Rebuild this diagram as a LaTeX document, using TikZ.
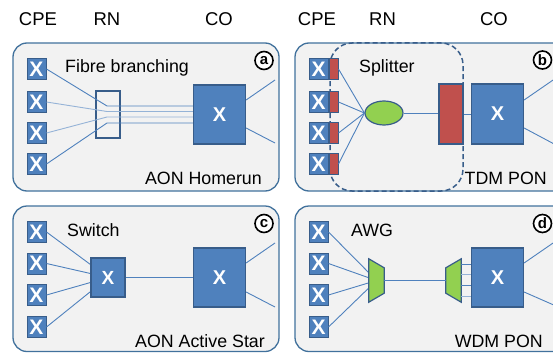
\documentclass[tikz,border=0pt]{standalone}
\usepackage{fontspec}
\setmainfont{Liberation Sans}
\usetikzlibrary{calc,shapes.geometric}
\definecolor{pfill}{HTML}{F2F2F2}
\definecolor{pborder}{HTML}{41719C}
\definecolor{bfill}{HTML}{4F81BD}
\definecolor{bborder}{HTML}{385D8A}
\definecolor{lnlight}{HTML}{95B3D7}
\definecolor{gfill}{HTML}{92D050}
\definecolor{rfill}{HTML}{C0504D}
\tikzset{
  panel/.style={rounded corners=14pt, fill=pfill, draw=pborder, line width=1.3pt},
  cpe/.style={rectangle, fill=bfill, draw=bborder, line width=1pt, minimum width=19pt, minimum height=21pt, inner sep=0pt, text=white, font=\fontsize{21}{21}\selectfont\bfseries},
  red/.style={rectangle, fill=rfill, draw=bborder, line width=1pt, minimum width=9pt, minimum height=21pt, inner sep=0pt},
  cobox/.style={rectangle, fill=bfill, draw=bborder, line width=1.2pt, minimum width=52pt, minimum height=59pt, inner sep=0pt, text=white, font=\fontsize{20}{20}\selectfont\bfseries},
  ln/.style={draw=bfill, line width=0.9pt},
  lnl/.style={draw=lnlight, line width=0.9pt},
  lbl/.style={font=\fontsize{17.8}{18}\selectfont, inner sep=0pt},
  hdr/.style={font=\fontsize{18.5}{19}\selectfont, inner sep=0pt},
  tag/.style={circle, draw=black, fill=white, line width=1.6pt, minimum size=18pt, inner sep=0pt, font=\fontsize{15}{15}\selectfont\bfseries},
  awg/.style={fill=gfill, draw=bborder, line width=1.2pt, line join=miter},
  dashbox/.style={draw=bborder, line width=1.5pt, dash pattern=on 5pt off 3pt, rounded corners=22pt},
}
\begin{document}
\begin{tikzpicture}[x=1pt,y=-1pt]
\useasboundingbox (0,0) rectangle (553,353);
\clip (0,0) rectangle (553,353);
% headers
\node[hdr] (h1) at (38,19) {CPE};
\node[hdr] (h2) at (107,19) {RN};
\node[hdr] (h3) at (219,19) {CO};
\node[hdr] (h4) at (317,19) {CPE};
\node[hdr] (h5) at (382.5,19) {RN};
\node[hdr] (h6) at (494,19) {CO};
% panels
\draw[panel] (13,43) rectangle (279,191);
\draw[panel] (295,43) rectangle (580,191);
\draw[panel] (13,206) rectangle (279,351.5);
\draw[panel] (295,206) rectangle (580,351.5);

% ---------- panel a
\foreach \i/\y in {1/69,2/102,3/133,4/164}{
  \node[cpe] (a\i) at (36.5,\y) {X};
}
\node[cobox] (aco) at (219.5,114.5) {X};
\node[rectangle, draw=bborder, line width=1.2pt, minimum width=24pt, minimum height=47pt, inner sep=0pt] (arn) at (108,114.5) {};
\coordinate (aj1) at (107,106);
\coordinate (aj2) at (107,111.5);
\coordinate (aj3) at (107,117);
\coordinate (aj4) at (107,123);
\draw[ln] (a1.east) -- (aj1) -- (aj1 -| aco.west);
\draw[lnl] (a2.east) -- (aj2) -- (aj2 -| aco.west);
\draw[lnl] (a3.east) -- (aj3) -- (aj3 -| aco.west);
\draw[ln] (a4.east) -- (aj4) -- (aj4 -| aco.west);
\coordinate (ao1) at (275,80);
\coordinate (ao2) at (275,143);
\draw[ln] ([yshift=14.5pt]aco.east) -- (ao1);
\draw[ln] ([yshift=-13.5pt]aco.east) -- (ao2);
\node[lbl, anchor=base west] (ta1) at (65,72) {Fibre branching};
\node[lbl, anchor=base east] (ta2) at (262,184) {AON Homerun};
\node[tag] (tga) at (264,60.5) {a};

% ---------- panel b
\draw[dashbox] (330,43) rectangle (463,191);
\foreach \i/\y in {1/69,2/102,3/133,4/164}{
  \node[cpe] (b\i) at (318.5,\y) {X};
  \node[red, anchor=west] (br\i) at (b\i.east) {};
}
\node[ellipse, fill=gfill, draw=bborder, line width=1.2pt, minimum width=38pt, minimum height=24pt, inner sep=0pt] (bsp) at (384,113) {};
\node[rectangle, fill=rfill, draw=bborder, line width=1.2pt, minimum width=24pt, minimum height=60pt, inner sep=0pt] (bolt) at (451,114) {};
\node[cobox, minimum height=60pt] (bco) at (497.5,114) {X};
\foreach \i in {1,2,3,4}{
  \draw[ln] (br\i.east) -- (bsp.west);
}
\draw[ln] (bsp.east) -- (bsp.east -| bolt.west);
\draw[ln] (bolt.east |- bco.west) -- (bco.west);
\coordinate (bo1) at (556,78);
\coordinate (bo2) at (556,145);
\draw[ln] ([yshift=14pt]bco.east) -- (bo1);
\draw[ln] ([yshift=-14pt]bco.east) -- (bo2);
\node[lbl, anchor=base west] (tb1) at (359,72) {Splitter};
\node[lbl, anchor=base east] (tb2) at (547,184) {TDM PON};
\node[tag] (tgb) at (542.5,60) {b};

% ---------- panel c
\node[rectangle, fill=bfill, draw=bborder, line width=1.2pt, minimum width=34pt, minimum height=39pt, inner sep=0pt] (csw) at (108,277.5) {};
\foreach \i/\y in {1/232,2/263.5,3/295,4/327}{
  \node[cpe] (c\i) at (36.5,\y) {X};
  \draw[ln] (c\i.east) -- (csw.center);
}
\node[rectangle, fill=bfill, draw=bborder, line width=1.2pt, minimum width=34pt, minimum height=39pt, inner sep=0pt, text=white, font=\fontsize{19}{19}\selectfont\bfseries] (csw2) at (108,277.5) {X};
\node[cobox] (cco) at (219.5,277.5) {X};
\draw[ln] (csw2.east) -- (cco.west);
\coordinate (co1) at (275,243);
\coordinate (co2) at (275,307);
\draw[ln] ([yshift=14.5pt]cco.east) -- (co1);
\draw[ln] ([yshift=-14.5pt]cco.east) -- (co2);
\node[lbl, anchor=base west] (tc1) at (67,236) {Switch};
\node[lbl, anchor=base east] (tc2) at (265,347) {AON Active Star};
\node[tag] (tgc) at (264,223.5) {c};

% ---------- panel d
\node[inner sep=0pt, minimum width=15pt, minimum height=43pt] (dawg1) at (376.5,280.5) {};
\node[inner sep=0pt, minimum width=15pt, minimum height=43pt] (dawg2) at (453.5,280.5) {};
\foreach \i/\y in {1/232,2/263.5,3/295,4/327}{
  \node[cpe] (d\i) at (318.5,\y) {X};
  \draw[ln] (d\i.east) -- (dawg1.center);
}
\draw[awg] (dawg1.north west) -- ([yshift=-9pt]dawg1.north east) -- ([yshift=9pt]dawg1.south east) -- (dawg1.south west) -- cycle;
\draw[awg] ([yshift=-9pt]dawg2.north west) -- (dawg2.north east) -- (dawg2.south east) -- ([yshift=9pt]dawg2.south west) -- cycle;
\node[cobox] (dco) at (497.5,277.5) {X};
\draw[ln] (dawg1.east) -- (dawg2.west);
\coordinate (dl1) at (461,264);
\coordinate (dl2) at (461,274);
\coordinate (dl3) at (461,285);
\coordinate (dl4) at (461,296);
\draw[ln] (dl1) -- (dl1 -| dco.west);
\draw[lnl] (dl2) -- (dl2 -| dco.west);
\draw[ln] (dl3) -- (dl3 -| dco.west);
\draw[lnl] (dl4) -- (dl4 -| dco.west);
\coordinate (do1) at (556,241);
\coordinate (do2) at (556,306);
\draw[ln] ([yshift=14.5pt]dco.east) -- (do1);
\draw[ln] ([yshift=-14.5pt]dco.east) -- (do2);
\node[lbl, anchor=base west] (td1) at (351,236) {AWG};
\node[lbl, anchor=base east] (td2) at (543,347) {WDM PON};
\node[tag] (tgd) at (542.5,223.5) {d};
\end{tikzpicture}
\end{document}
